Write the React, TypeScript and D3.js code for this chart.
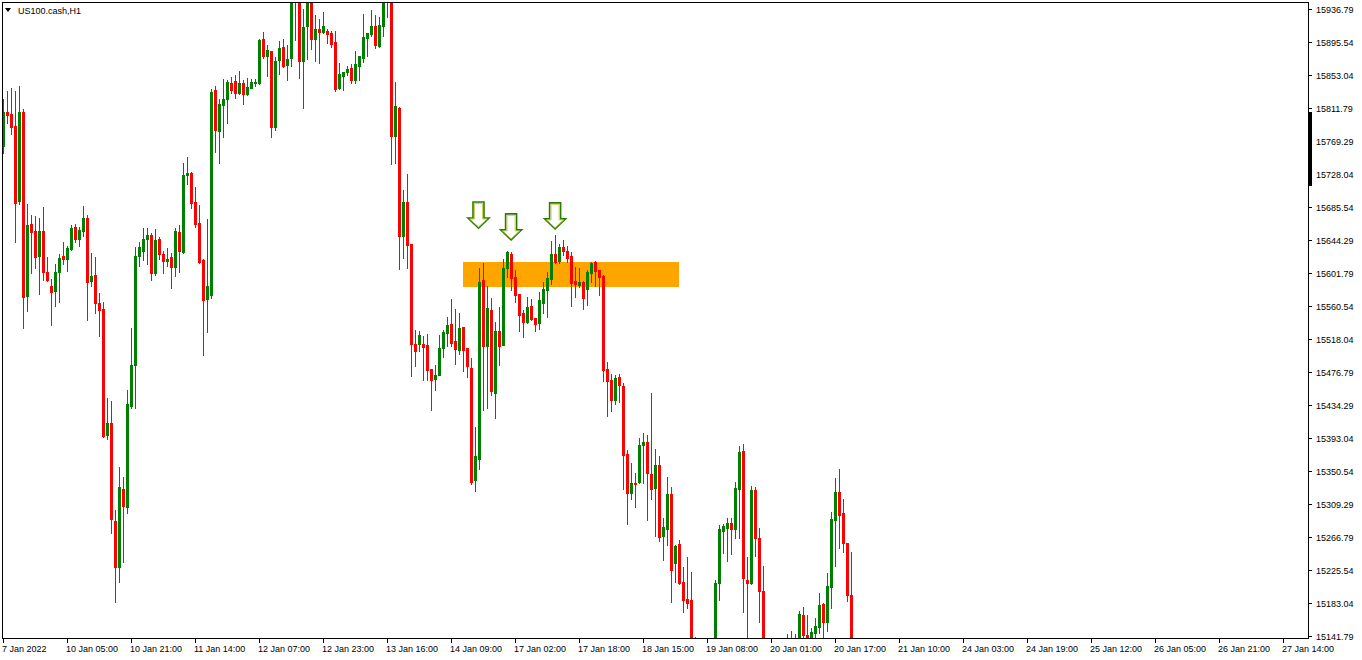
import React from 'react';
import * as d3 from 'd3';

const OPEN = [15763,15806,15804,15788,15693,15806,15573,15664,15655,15624,15655,15603,15586,15579,15603,15624,15620,15632,15660,15645,15655,15672,15592,15600,15564,15556,15397,15412,15288,15229,15328,15305,15433,15485,15624,15630,15645,15650,15602,15645,15626,15617,15622,15610,15654,15629,15726,15729,15692,15665,15619,15569,15574,15834,15782,15815,15823,15843,15846,15830,15843,15829,15837,15843,15843,15899,15877,15884,15787,15872,15889,15866,15875,15980,15954,15871,15915,15952,15899,15911,15908,15909,15906,15895,15837,15852,15857,15862,15847,15865,15875,15900,15905,15915,15890,15915,15958,15952,15776,15811,15649,15692,15639,15512,15512,15512,15511,15480,15468,15473,15507,15526,15537,15516,15504,15534,15507,15482,15340,15366,15593,15510,15555,15450,15528,15511,15608,15626,15597,15575,15551,15540,15560,15545,15539,15564,15581,15595,15626,15617,15635,15630,15624,15592,15587,15591,15582,15602,15616,15606,15598,15480,15466,15441,15470,15459,15373,15323,15336,15337,15384,15388,15347,15329,15359,15269,15277,15322,15234,15258,15210,15189,15187,15109,15092,15111,15086,15105,15121,15209,15275,15279,15285,15277,15328,15376,15213,15209,15327,15266,15199,15124,15101,15118,15099,15111,15121,15130,15124,15118,15168,15143,15133,15146,15153,15182,15160,15204,15289,15324,15298,15260,15194];
const HIGH = [15823,15833,15837,15833,15839,15810,15690,15676,15674,15672,15686,15622,15595,15613,15626,15641,15636,15663,15664,15660,15687,15676,15627,15622,15577,15565,15444,15440,15302,15356,15343,15454,15532,15635,15641,15659,15659,15653,15658,15648,15630,15634,15627,15659,15663,15742,15749,15730,15711,15688,15620,15671,15835,15839,15823,15848,15847,15851,15853,15858,15847,15849,15848,15848,15899,15908,15891,15884,15876,15896,15899,15891,15963,15986,15961,15937,15958,15956,15929,15924,15933,15911,15909,15909,15868,15857,15865,15867,15884,15877,15930,15906,15936,15929,15927,15958,15974,15956,15844,15813,15707,15728,15639,15530,15528,15522,15525,15480,15485,15523,15530,15546,15569,15556,15551,15534,15507,15494,15407,15608,15615,15586,15570,15540,15559,15620,15630,15629,15606,15575,15555,15572,15569,15545,15578,15591,15603,15643,15650,15639,15644,15636,15629,15610,15608,15592,15606,15616,15617,15606,15600,15489,15474,15473,15474,15463,15378,15361,15348,15393,15399,15397,15450,15379,15370,15291,15343,15331,15257,15263,15229,15242,15223,15140,15124,15118,15111,15130,15213,15282,15284,15291,15291,15337,15383,15385,15242,15332,15331,15279,15231,15130,15127,15124,15121,15130,15144,15148,15144,15173,15178,15168,15152,15165,15196,15184,15222,15299,15342,15354,15315,15260,15248];
const LOW = [15754,15792,15778,15641,15690,15532,15554,15602,15608,15575,15593,15592,15536,15560,15565,15613,15605,15631,15641,15636,15649,15542,15586,15551,15522,15394,15391,15272,15185,15210,15236,15298,15431,15431,15611,15619,15613,15593,15600,15620,15602,15611,15583,15598,15603,15627,15715,15684,15660,15615,15498,15527,15570,15755,15742,15774,15792,15830,15824,15829,15816,15828,15837,15839,15842,15875,15852,15774,15783,15854,15863,15847,15865,15897,15849,15811,15873,15886,15871,15868,15906,15894,15889,15833,15835,15834,15853,15843,15843,15847,15870,15877,15903,15887,15889,15903,15927,15740,15742,15607,15621,15608,15471,15484,15503,15466,15466,15428,15454,15473,15495,15510,15510,15487,15499,15478,15470,15334,15326,15354,15428,15431,15447,15418,15485,15511,15597,15581,15565,15528,15521,15539,15542,15528,15531,15551,15546,15588,15615,15615,15625,15616,15560,15572,15584,15556,15561,15591,15586,15574,15465,15421,15427,15436,15438,15328,15284,15315,15305,15336,15336,15289,15315,15269,15262,15238,15257,15185,15210,15208,15172,15177,15099,15086,15073,15067,15073,15096,15116,15187,15247,15237,15246,15266,15266,15172,15130,15208,15243,15160,15111,15086,15092,15086,15080,15105,15111,15114,15109,15111,15130,15124,15127,15137,15146,15130,15148,15177,15231,15253,15248,15186,15086];
const CLOSE = [15806,15802,15787,15691,15806,15572,15663,15654,15622,15655,15603,15593,15578,15603,15621,15620,15634,15659,15645,15657,15672,15591,15598,15564,15555,15395,15412,15290,15229,15331,15307,15436,15485,15624,15635,15645,15650,15602,15644,15626,15617,15620,15610,15655,15630,15726,15729,15691,15664,15616,15568,15586,15831,15783,15816,15823,15844,15834,15830,15843,15829,15838,15844,15844,15897,15877,15885,15787,15871,15887,15865,15873,15958,15954,15871,15914,15952,15899,15911,15908,15915,15905,15892,15835,15854,15857,15861,15847,15867,15877,15901,15906,15915,15891,15917,15953,15952,15776,15814,15649,15692,15638,15512,15503,15523,15508,15479,15466,15473,15507,15527,15536,15513,15506,15532,15504,15484,15337,15370,15591,15510,15558,15452,15528,15510,15608,15629,15596,15574,15549,15540,15559,15544,15537,15568,15582,15596,15626,15616,15635,15630,15621,15589,15588,15591,15570,15603,15615,15605,15597,15479,15465,15441,15469,15460,15371,15323,15336,15334,15384,15388,15348,15328,15359,15267,15280,15322,15225,15256,15209,15187,15184,15111,15096,15111,15086,15105,15121,15209,15277,15281,15285,15277,15329,15375,15215,15209,15327,15266,15199,15124,15105,15118,15099,15111,15124,15130,15124,15118,15170,15143,15133,15147,15154,15181,15160,15205,15290,15324,15295,15260,15194,15111];

const PRICE_TICKS = ['15936.79','15895.54','15853.04','15811.79','15769.29','15728.04','15685.54','15644.29','15601.79','15560.54','15518.04','15476.79','15434.29','15393.04','15350.54','15309.29','15266.79','15225.54','15183.04','15141.79'];
const TIME_LABELS = ['7 Jan 2022','10 Jan 05:00','10 Jan 21:00','11 Jan 14:00','12 Jan 07:00','12 Jan 23:00','13 Jan 16:00','14 Jan 09:00','17 Jan 02:00','17 Jan 18:00','18 Jan 15:00','19 Jan 08:00','20 Jan 01:00','20 Jan 17:00','21 Jan 10:00','24 Jan 03:00','24 Jan 19:00','25 Jan 12:00','26 Jan 05:00','26 Jan 21:00','27 Jan 14:00'];
const LABEL_EVERY = 16;
const SYMBOL = 'US100.cash,H1';
const ZONE_TOP = 15616;
const ZONE_BOTTOM = 15584;
const ZONE_FROM = 114.9;
const ZONE_TO = 168.9;
const ARROW_BARS = [118.75, 126.9, 137.9];
const ARROW_TOPS = [15692, 15677, 15691];

const W = 1362, H = 660;
const PL = 2, PT = 2, PR = 1308, PB = 638;
const BULL = '#008000', BEAR = '#ff0000';
const FONT = '"Liberation Sans", Arial, sans-serif';

function arrowPath(cx: number, top: number, w: number, sw: number, sh: number, hh: number) {
  return `M${cx - sw / 2},${top} L${cx + sw / 2},${top} L${cx + sw / 2},${top + sh} L${cx + w / 2},${top + sh} L${cx},${top + sh + hh} L${cx - w / 2},${top + sh} L${cx - sw / 2},${top + sh} Z`;
}

export default function App() {
  const x = d3.scaleLinear().domain([0, 320]).range([3.5, 1283.5]);
  const y = d3.scaleLinear().domain([15141.79, 15936.79]).range([636, 9]);
  const candles = OPEN.map((o, i) => ({ i, o, h: HIGH[i], l: LOW[i], c: CLOSE[i] }));

  return (
    <svg width={W} height={H} style={{ position: 'absolute', left: 0, top: 0, background: '#fff' }} shapeRendering="crispEdges">
      <defs>
        <clipPath id="plot"><rect x={PL + 1} y={PT + 1} width={PR - PL - 1} height={PB - PT - 1} /></clipPath>
      </defs>
      <rect x={0} y={0} width={W} height={H} fill="#fff" />
      <g clipPath="url(#plot)">
        <rect x={x(ZONE_FROM)} y={Math.round(y(ZONE_TOP))} width={x(ZONE_TO) - x(ZONE_FROM)} height={Math.round(y(ZONE_BOTTOM)) - Math.round(y(ZONE_TOP))} fill="#ffa500" />
        {candles.map(d => {
          const col = d.c >= d.o ? BULL : BEAR;
          const cx = x(d.i);
          const bt = Math.round(y(Math.max(d.o, d.c)));
          const bb = Math.round(y(Math.min(d.o, d.c)));
          const wt = Math.round(y(d.h));
          const wb = Math.round(y(d.l));
          return (
            <g key={d.i}>
              <rect x={Math.floor(cx)} y={wt} width={1} height={Math.max(1, wb - wt + 1)} fill={col} />
              <rect x={Math.round(cx - 1.5)} y={bt} width={3} height={Math.max(1, bb - bt + 1)} fill={col} />
            </g>
          );
        })}
        {ARROW_BARS.map((b, k) => {
          const cx = x(b);
          const top = y(ARROW_TOPS[k]);
          return (
            <g key={k} shapeRendering="auto">
              <path d={arrowPath(cx, top, 21, 11, 16, 10)} fill="#fff" stroke="#2a7d00" strokeWidth={1.6} strokeLinejoin="miter" />
              <path d={arrowPath(cx, top + 1.5, 17.5, 8, 15.5, 8)} fill="none" stroke="#c9c23a" strokeWidth={0.8} />
            </g>
          );
        })}
      </g>
      {/* frame */}
      <line x1={PL + 0.5} y1={PT} x2={PL + 0.5} y2={PB + 1} stroke="#000" />
      <line x1={PL} y1={PT + 0.5} x2={PR + 1} y2={PT + 0.5} stroke="#000" />
      <line x1={PR + 0.5} y1={PT} x2={PR + 0.5} y2={PB + 1} stroke="#000" />
      <line x1={PL} y1={PB + 0.5} x2={PR + 1} y2={PB + 0.5} stroke="#000" />
      <rect x={1309} y={112} width={3} height={74} fill="#000" />
      {PRICE_TICKS.map(t => {
        const yy = Math.round(y(+t));
        return (
          <g key={t}>
            <line x1={PR} x2={PR + 4} y1={yy + 0.5} y2={yy + 0.5} stroke="#000" />
            <text x={1316} y={yy + 3.5} fontFamily={FONT} fontSize={9} fill="#000">{t}</text>
          </g>
        );
      })}
      {TIME_LABELS.map((t, k) => {
        const xx = Math.floor(x(k * LABEL_EVERY));
        return (
          <g key={t}>
            <line x1={xx + 0.5} x2={xx + 0.5} y1={PB} y2={PB + 5} stroke="#000" />
            <text x={xx - 1} y={652} fontFamily={FONT} fontSize={9} fill="#000">{t}</text>
          </g>
        );
      })}
      <path d="M5,8 L11,8 L8,12 Z" fill="#000" shapeRendering="auto" />
      <text x={18} y={14} fontFamily={FONT} fontSize={9} fill="#000">{SYMBOL}</text>
    </svg>
  );
}
